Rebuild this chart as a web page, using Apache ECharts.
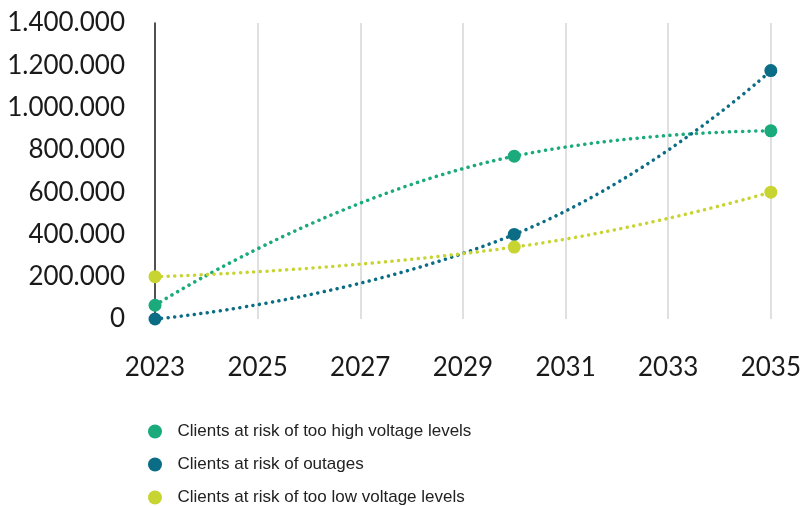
<!DOCTYPE html>
<html>
<head>
<meta charset="utf-8">
<script src="https://cdn.jsdelivr.net/npm/echarts@6/dist/echarts.min.js"></script>
<style>
  html, body { margin: 0; padding: 0; background: #fff; }
  #chart { width: 804px; height: 506px; }
</style>
</head>
<body>
<div id="chart"></div>
<script>
// data
const years = [2023, 2030, 2035];
const seriesNames = [
  'Clients at risk of too high voltage levels',
  'Clients at risk of outages',
  'Clients at risk of too low voltage levels'
];
const highVoltage = [65000, 770000, 890000];
const outages = [0, 400000, 1175000];
const lowVoltage = [200000, 340000, 600000];
const colors = ['#1aaa7c', '#0b6d85', '#c8d431'];

function dotted(name, values, color) {
  return {
    name: name,
    type: 'line',
    smooth: 0.5,
    data: years.map((y, i) => [y, values[i]]),
    symbol: 'circle',
    symbolSize: 13,
    itemStyle: {color: color},
    lineStyle: {color: color, width: 3.5, type: [0.1, 6.5], cap: 'round'},
    z: 3
  };
}

function thousands(v) {
  return String(v).replace(/\B(?=(\d{3})+(?!\d))/g, '.');
}

const chart = echarts.init(document.getElementById('chart'));
chart.setOption({
  animation: false,
  color: colors,
  grid: {left: 155, right: 28, top: 23, bottom: 187},
  xAxis: {
    type: 'value',
    min: 2023,
    max: 2035,
    interval: 2,
    axisLine: {show: false},
    axisTick: {show: false},
    splitLine: {show: true, lineStyle: {color: '#d6d6d6', width: 1.5}},
    axisLabel: {
      margin: 36,
      fontFamily: 'Lato',
      fontSize: 26,
      color: '#1a1a1a',
      formatter: v => String(v)
    }
  },
  yAxis: {
    type: 'value',
    min: 0,
    max: 1400000,
    interval: 200000,
    axisLine: {show: true, lineStyle: {color: '#222', width: 1.5}},
    axisTick: {show: false},
    splitLine: {show: false},
    axisLabel: {
      margin: 30,
      fontFamily: 'Lato',
      fontSize: 26,
      color: '#1a1a1a',
      formatter: thousands
    }
  },
  legend: {
    orient: 'vertical',
    left: 148,
    top: 423,
    height: 120,
    padding: 0,
    icon: 'circle',
    itemWidth: 25,
    itemHeight: 14,
    itemGap: 16,
    textStyle: {fontFamily: 'Liberation Sans', fontSize: 17, color: '#222', padding: [0, 0, 0, 5]},
    data: seriesNames
  },
  series: [
    dotted(seriesNames[0], highVoltage, colors[0]),
    dotted(seriesNames[1], outages, colors[1]),
    dotted(seriesNames[2], lowVoltage, colors[2])
  ]
});
</script>
</body>
</html>
